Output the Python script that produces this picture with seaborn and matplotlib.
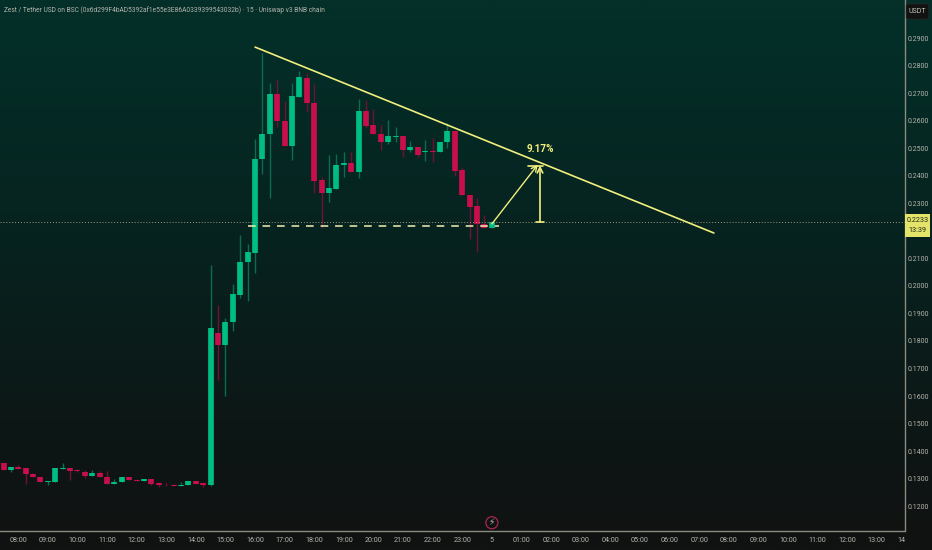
import numpy as np
import pandas as pd
import matplotlib
matplotlib.use("Agg")
import matplotlib.pyplot as plt
from matplotlib.colors import LinearSegmentedColormap
from matplotlib.patches import FancyBboxPatch, Rectangle
from matplotlib.transforms import Bbox
import seaborn as sns

# candles, 15 minute bars, index 0 is 08:00
opens = [.1357, .1330, .1342, .1338, .1316, .1306, .1288, .1289, .1336, .1340, .1330, .1325, .1311, .1319,
         .1306, .1281, .1288, .1306, .1296, .1290, .1299, .1283, .1278, .1276, .1272, .1277, .1290, .1283,
         .1277, .1830, .1786, .1870, .1968, .2086, .2121, .2460, .2550, .2697, .2600, .2508, .2687, .2756,
         .2664, .2385, .2336, .2353, .2438, .2446, .2412, .2636, .2583, .2552, .2521, .2542, .2544, .2495,
         .2504, .2486, .2489, .2485, .2522, .2561, .2421, .2330, .2290, .2226, .2210]
highs = [.1357, .1342, .1351, .1338, .1321, .1306, .1292, .1339, .1357, .1340, .1336, .1333, .1333, .1328,
         .1328, .1299, .1306, .1306, .1296, .1300, .1299, .1289, .1286, .1281, .1288, .1290, .1292, .1283,
         .2077, .1931, .1883, .2007, .2185, .2152, .2533, .2844, .2737, .2751, .2672, .2737, .2780, .2773,
         .2733, .2397, .2475, .2479, .2487, .2487, .2677, .2675, .2642, .2584, .2602, .2578, .2544, .2527,
         .2504, .2530, .2538, .2524, .2591, .2561, .2433, .2330, .2320, .2257, .2233]
lows = [.1333, .1323, .1336, .1282, .1305, .1288, .1276, .1289, .1336, .1296, .1323, .1302, .1311, .1305,
        .1281, .1281, .1288, .1295, .1290, .1290, .1276, .1270, .1275, .1272, .1272, .1277, .1282, .1269,
        .1272, .1659, .1600, .1836, .1957, .1945, .2047, .2406, .2320, .2577, .2508, .2457, .2687, .2632,
        .2338, .2210, .2306, .2353, .2395, .2412, .2393, .2573, .2552, .2493, .2515, .2524, .2469, .2485,
        .2469, .2454, .2451, .2485, .2501, .2399, .2329, .2170, .2122, .2210, .2210]
closes = [.1333, .1342, .1336, .1316, .1305, .1288, .1292, .1339, .1340, .1327, .1327, .1311, .1319, .1305,
          .1281, .1289, .1306, .1295, .1290, .1300, .1281, .1277, .1277, .1272, .1278, .1290, .1282, .1278,
          .1848, .1786, .1870, .1971, .2088, .2122, .2461, .2552, .2697, .2599, .2508, .2689, .2757, .2664,
          .2381, .2336, .2354, .2438, .2446, .2412, .2636, .2582, .2552, .2521, .2544, .2544, .2493, .2504,
          .2475, .2489, .2485, .2524, .2561, .2417, .2329, .2288, .2225, .2210, .2232]
first_bar = -2

y_ticks = [.12, .13, .14, .15, .16, .17, .18, .19, .20, .21, .23, .24, .25, .26, .27, .28, .29]
x_ticks = list(range(0, 117, 4))
x_labels = ["08:00", "09:00", "10:00", "11:00", "12:00", "13:00", "14:00", "15:00", "16:00", "17:00",
            "18:00", "19:00", "20:00", "21:00", "22:00", "23:00", "5", "01:00", "02:00", "03:00",
            "04:00", "05:00", "06:00", "07:00", "08:00", "09:00", "10:00", "11:00", "12:00", "13:00"]

last_price = 0.2233
trend_x = [32.0, 94.0]
trend_y = [.2867, .2192]
support_x = [31.0, 65.0]
support_y = [.2218, .2218]

title = "Zest / Tether USD on BSC (0x6d299F4bAD5392af1e55e3E86A0339399543032b) · 15 · Uniswap v3 BNB chain"

GREEN = "#00bd83"
RED = "#c80f4b"
GREEN_WICK = "#0a6d53"
RED_WICK = "#6d1436"
YELLOW = "#f1ef7d"
TEXT = "#b4b4aa"
AXIS = "#8b8b80"

sns.set_theme(style="dark")
plt.rcParams["font.family"] = ["Roboto", "DejaVu Sans"]

fig = plt.figure(figsize=(9.32, 5.5), dpi=100)

bg = fig.add_axes([0, 0, 1, 1])
cmap = LinearSegmentedColormap.from_list(
    "bg", [(0, "#111212"), (0.2, "#0d1615"), (0.55, "#07221f"), (1, "#033029")])
bg.imshow(np.linspace(1, 0, 256).reshape(-1, 1), aspect="auto", cmap=cmap, extent=[0, 1, 0, 1])
bg.axis("off")

ax = fig.add_axes([0, 19 / 550, 904.5 / 932, 531 / 550])
ax.patch.set_alpha(0)
ax.grid(False)

df = pd.DataFrame({"open": opens, "high": highs, "low": lows, "close": closes})
df["bar"] = df.index + first_bar
df["side"] = np.where(df["close"] >= df["open"], "up", "down")

wicks = df.melt(id_vars=["bar", "side"], value_vars=["low", "high"], value_name="price")
bodies = df.melt(id_vars=["bar", "side"], value_vars=["open", "close"], value_name="price")

sns.lineplot(data=wicks, x="bar", y="price", units="bar", hue="side", estimator=None, sort=False,
             palette={"up": GREEN_WICK, "down": RED_WICK}, linewidth=1.0, legend=False, ax=ax,
             solid_capstyle="butt")
sns.lineplot(data=bodies, x="bar", y="price", units="bar", hue="side", estimator=None, sort=False,
             palette={"up": GREEN, "down": RED}, linewidth=4.1, legend=False, ax=ax,
             solid_capstyle="butt")

# drawings on top of the candles
ax.axhline(last_price, color="#9c9c7c", lw=0.7, ls=(0, (1, 2)))
ax.plot(support_x, support_y, color="#f3efb4", lw=1.1, ls=(0, (5, 4.5)))
ax.plot(trend_x, trend_y, color=YELLOW, lw=1.2)
ax.annotate("", xy=(70.2, .2440), xytext=(64, .2225),
            arrowprops=dict(arrowstyle="->", color=YELLOW, lw=1.0, mutation_scale=10, shrinkA=0, shrinkB=0))
ax.annotate("", xy=(70.5, .2437), xytext=(70.5, .2232),
            arrowprops=dict(arrowstyle="->", color=YELLOW, lw=1.2, mutation_scale=10, shrinkA=0, shrinkB=0))
ax.plot([69.9, 71.1], [.2232, .2232], color=YELLOW, lw=1.2)
ax.plot([68.9, 70.9], [.2437, .2437], color=YELLOW, lw=1.2)
ax.text(70.5, .2497, "9.17%", color=YELLOW, fontsize=7.2, ha="center", va="center", fontweight="bold")

ax.set_xlim(-2.473, 119.76)
ax.set_ylim(.1110, .3038)
ax.yaxis.tick_right()
ax.set_yticks(y_ticks, [f"{v:.4f}" for v in y_ticks])
ax.set_xticks(x_ticks, x_labels)
ax.tick_params(axis="y", length=0, pad=2.5, labelsize=5, colors=TEXT)
ax.tick_params(axis="x", length=0, pad=4.5, labelsize=5.2, colors=TEXT)
ax.set_xlabel("")
ax.set_ylabel("")
for side in ["left", "top"]:
    ax.spines[side].set_visible(False)
for side in ["bottom", "right"]:
    ax.spines[side].set_visible(True)
    ax.spines[side].set_color(AXIS)
    ax.spines[side].set_linewidth(1.0)

# the 14:00 label is cut by the price scale
t = fig.text(906 / 932, 10 / 550, "14:00", color=TEXT, fontsize=5.2, ha="center", va="center")
t.set_clip_on(True)
t.set_clip_box(Bbox([[0, 0], [904.5, 550]]))

fig.text(4 / 932, 1 - 10.5 / 550, title, color=TEXT, fontsize=4.8, ha="left", va="center")

# session break marker
ax.scatter([64], [.1140], s=75, facecolor="none", edgecolor="#a8264e", linewidth=0.9, clip_on=False)
ax.text(64, .1140, "⚡", color="#b9b9ae", fontsize=6.5, ha="center", va="center", family="DejaVu Sans")

# USDT box and last price tag
fig.add_artist(FancyBboxPatch((908 / 932, 1 - 18 / 550), 19 / 932, 13 / 550, boxstyle="round,pad=0.002,rounding_size=0.003",
                              transform=fig.transFigure, facecolor="#121212", edgecolor="#2a2a2a", lw=0.5))
fig.text(917.5 / 932, 1 - 11.5 / 550, "USDT", color="#c4c4ba", fontsize=5, ha="center", va="center")
fig.add_artist(Rectangle((905 / 932, 1 - 237 / 550), 25 / 932, 23 / 550, transform=fig.transFigure,
                         facecolor="#e4e36a", edgecolor="none"))
fig.text(917.5 / 932, 1 - 220.5 / 550, f"{last_price:.4f}", color="#1c2a14", fontsize=5.2, ha="center", va="center")
fig.text(917.5 / 932, 1 - 231 / 550, "13:39", color="#1c2a14", fontsize=5.2, ha="center", va="center")

fig.savefig("out.png", dpi=100)
